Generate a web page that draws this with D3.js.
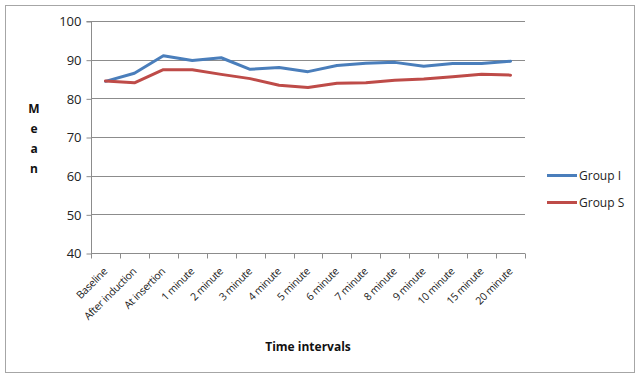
<!DOCTYPE html>
<html>
<head>
<meta charset="utf-8">
<script src="https://cdn.jsdelivr.net/npm/d3@7"></script>
<style>
  html, body { margin: 0; padding: 0; background: #fff; }
  svg { display: block; font-family: "Open Sans", "Liberation Sans", sans-serif; }
</style>
</head>
<body>
<svg id="chart" width="636" height="374"></svg>
<script>
// Time points at which the mean was recorded
const categories = ["Baseline", "After induction", "At insertion", "1 minute", "2 minute",
  "3 minute", "4 minute", "5 minute", "6 minute", "7 minute", "8 minute", "9 minute",
  "10 minute", "15 minute", "20 minute"];

// Mean values per group
const groupI = [84.4, 86.5, 91.0, 89.8, 90.5, 87.5, 88.0, 86.9, 88.5, 89.1, 89.3, 88.3, 89.0, 89.0, 89.6];
const groupS = [84.5, 84.0, 87.4, 87.4, 86.2, 85.1, 83.4, 82.8, 83.9, 84.0, 84.7, 85.0, 85.6, 86.2, 86.0];

const yTicks = [40, 50, 60, 70, 80, 90, 100];

const seriesNames = ["Group I", "Group S"];
const seriesColors = ["#4A7EBB", "#BE4B48"];

const svg = d3.select("#chart");
const W = 636, H = 374;

// Outer frame
svg.append("rect").attr("x", 5.5).attr("y", 5.5).attr("width", W - 7).attr("height", H - 7)
  .attr("fill", "#fff").attr("stroke", "#a6a6a6").attr("stroke-width", 1);

const plot = { left: 91, right: 525, top: 21, bottom: 253 };

const x = d3.scaleBand().domain(categories).range([plot.left, plot.right]).padding(0);
const y = d3.scaleLinear().domain([40, 100]).range([plot.bottom, plot.top]);

// Horizontal grid lines
svg.append("g").selectAll("line").data(yTicks.filter(t => t > 40)).join("line")
  .attr("x1", plot.left).attr("x2", plot.right)
  .attr("y1", d => Math.round(y(d)) + 0.5).attr("y2", d => Math.round(y(d)) + 0.5)
  .attr("stroke", "#8c8c8c").attr("stroke-width", 1);

// Y axis
const yAxis = d3.axisLeft(y).tickValues(yTicks).tickSize(5).tickPadding(5).tickFormat(d3.format("d"));
const gy = svg.append("g").attr("transform", `translate(${plot.left + 0.5},0.5)`).call(yAxis);
gy.select(".domain").attr("stroke", "#8c8c8c").attr("d", `M-5,${plot.top}H0V${plot.bottom}`);
gy.selectAll(".tick line").attr("stroke", "#8c8c8c");
gy.selectAll(".tick text").attr("font-size", 13).attr("fill", "#222")
  .attr("font-family", "'Open Sans', sans-serif");

// X axis with ticks between categories
const gx = svg.append("g").attr("transform", `translate(0,${plot.bottom + 0.5})`);
gx.append("line").attr("x1", plot.left).attr("x2", plot.right)
  .attr("stroke", "#8c8c8c");
const boundaries = categories.map(c => x(c)).concat([plot.right]);
gx.selectAll("line.tk").data(boundaries).join("line").attr("class", "tk")
  .attr("x1", d => Math.round(d) + 0.5).attr("x2", d => Math.round(d) + 0.5)
  .attr("y1", 0).attr("y2", 5).attr("stroke", "#8c8c8c");

gx.selectAll("text").data(categories).join("text")
  .attr("transform", d => `translate(${x(d) + x.bandwidth() / 2},${16}) rotate(-45)`)
  .attr("text-anchor", "end")
  .attr("dy", "0.35em")
  .attr("font-size", 10.5)
  .attr("fill", "#222")
  .attr("letter-spacing", "-0.3px")
  .text(d => d);

// Lines
const line = d3.line()
  .x((d, i) => x(categories[i]) + x.bandwidth() / 2)
  .y(d => y(d));

[groupI, groupS].forEach((vals, k) => {
  svg.append("path").datum(vals)
    .attr("d", line)
    .attr("fill", "none")
    .attr("stroke", seriesColors[k])
    .attr("stroke-width", 3)
    .attr("stroke-linejoin", "round")
    .attr("stroke-linecap", "round");
});

// Y axis title, one letter per row
const yTitle = "Mean".split("");
svg.append("g").selectAll("text").data(yTitle).join("text")
  .attr("x", 34).attr("y", (d, i) => 113 + i * 20)
  .attr("text-anchor", "middle")
  .attr("font-size", 12).attr("font-weight", "bold").attr("fill", "#111")
  .text(d => d);

// X axis title
svg.append("text").attr("x", 308).attr("y", 351)
  .attr("text-anchor", "middle")
  .attr("font-size", 12).attr("font-weight", "bold").attr("fill", "#111")
  .text("Time intervals");

// Legend
const legend = svg.append("g");
seriesNames.forEach((name, k) => {
  const ly = 175.5 + k * 27;
  legend.append("line").attr("x1", 547).attr("x2", 577).attr("y1", ly).attr("y2", ly)
    .attr("stroke", seriesColors[k]).attr("stroke-width", 3);
  legend.append("text").attr("x", 579).attr("y", ly).attr("dy", "0.35em")
    .attr("font-size", 12).attr("fill", "#222").text(name);
});
</script>
</body>
</html>
